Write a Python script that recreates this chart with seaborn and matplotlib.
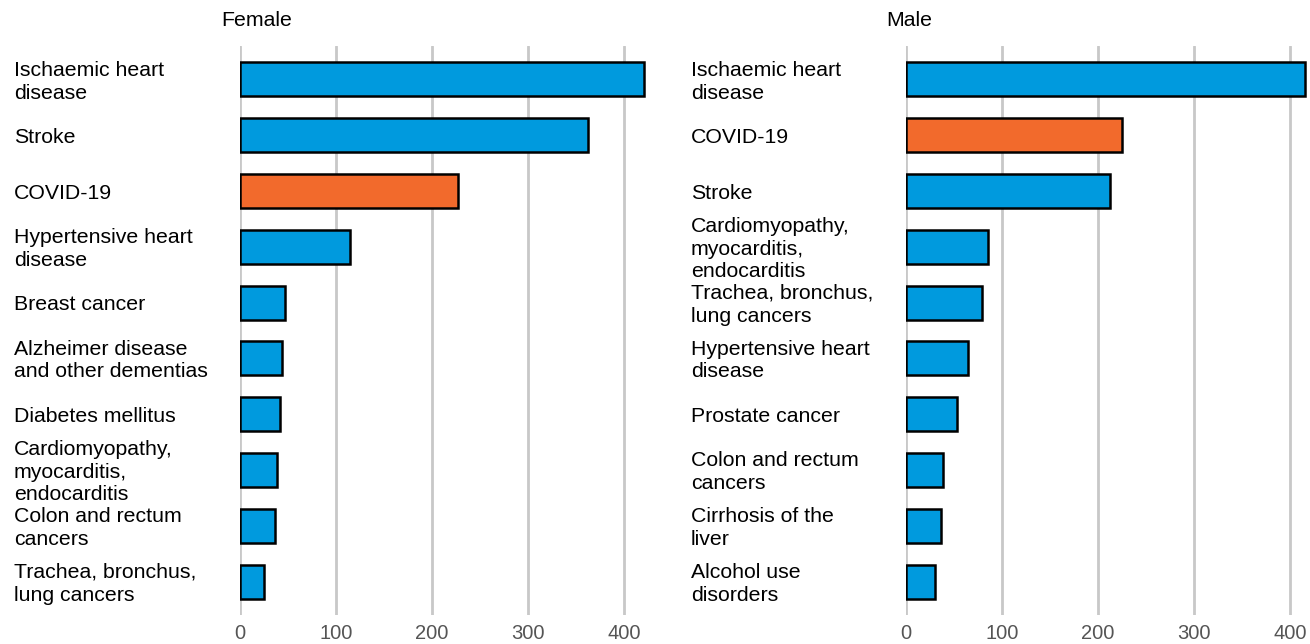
import matplotlib
matplotlib.use("Agg")
import matplotlib.pyplot as plt
import matplotlib.transforms as mtransforms
import seaborn as sns

# data (deaths per 100k, approx.)
female_causes = ["Ischaemic heart\ndisease", "Stroke", "COVID-19", "Hypertensive heart\ndisease",
                 "Breast cancer", "Alzheimer disease\nand other dementias", "Diabetes mellitus",
                 "Cardiomyopathy,\nmyocarditis,\nendocarditis", "Colon and rectum\ncancers",
                 "Trachea, bronchus,\nlung cancers"]
female_values = [421, 362, 227, 115, 47, 44, 42, 38.5, 36.5, 25]

male_causes = ["Ischaemic heart\ndisease", "COVID-19", "Stroke",
               "Cardiomyopathy,\nmyocarditis,\nendocarditis", "Trachea, bronchus,\nlung cancers",
               "Hypertensive heart\ndisease", "Prostate cancer", "Colon and rectum\ncancers",
               "Cirrhosis of the\nliver", "Alcohol use\ndisorders"]
male_values = [416, 225, 212.5, 85.5, 79, 65, 53, 38.5, 36.5, 30]

xticks = [0, 100, 200, 300, 400]

blue = "#009ADE"
orange = "#F26A2C"

sns.set_style("white")
plt.rcParams['font.family'] = ['Liberation Sans', 'DejaVu Sans']

fig = plt.figure(figsize=(13.1, 6.44), dpi=100)
W, H = 1310, 644

def panel(left_px, right_px, xmax, causes, values, label_px, title, title_px):
    ax = fig.add_axes([left_px / W, 1 - 615 / H, (right_px - left_px) / W, (615 - 46) / H])
    cols = [orange if c == "COVID-19" else blue for c in causes]
    sns.barplot(x=values, y=causes, hue=causes, palette=cols, orient="h", width=0.61,
                saturation=1, edgecolor="black", linewidth=1.8, legend=False, ax=ax, zorder=3)
    ax.set_xlim(0, xmax)
    ax.set_ylim(9.6, -0.6)
    ax.set_xticks(xticks)
    ax.set_xticklabels([str(t) for t in xticks], fontsize=14.5, color="#555555")
    ax.tick_params(axis="x", length=0, pad=13)
    for lab in ax.get_xticklabels():
        lab.set_verticalalignment("center")
    ax.set_yticks([])
    ax.set_xlabel("")
    ax.set_ylabel("")
    for s in ax.spines.values():
        s.set_visible(False)
    ax.grid(axis="x", color="#c8c8c8", linewidth=2, zorder=0)
    ax.set_axisbelow(True)
    trans = mtransforms.blended_transform_factory(fig.transFigure, ax.transData)
    for i, c in enumerate(causes):
        ax.text(label_px / W, i + 0.04, c, transform=trans, ha="left", va="center",
                fontsize=15.3, linespacing=1.25, color="black")
    fig.text(title_px / W, 1 - 21 / H, title, ha="center", va="center",
             fontsize=15.3, color="black")
    return ax

panel(240, 650, 427, female_causes, female_values, 14, "Female", 257)
panel(906, 1310, 421, male_causes, male_values, 691, "Male", 909)

fig.savefig("out.png", dpi=100)
